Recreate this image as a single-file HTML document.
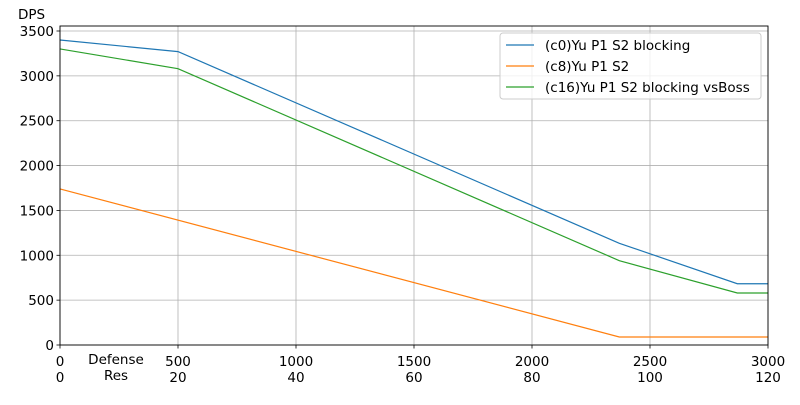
<!DOCTYPE html>
<html><head><meta charset="utf-8"><style>
body{margin:0;background:#fff;}
svg{font-family:"DejaVu Sans","Liberation Sans",sans-serif;}
</style></head><body>
<svg id="chart" width="800" height="400" viewBox="0 0 800 400">
<rect width="800" height="400" fill="#fff"/>
<g id="grid"></g><g id="lines"></g><g id="axes"></g>
</svg>
<script>
const xTicks=[0,500,1000,1500,2000,2500,3000];
const xTicks2=["0","20","40","60","80","100","120"];
const yTicks=[0,500,1000,1500,2000,2500,3000,3500];
const seriesNames=["(c0)Yu P1 S2 blocking","(c8)Yu P1 S2","(c16)Yu P1 S2 blocking vsBoss"];
const colors=["#1f77b4","#ff7f0e","#2ca02c"];
const blueX=[0,500,2370,2870,3000];
const blueY=[3400,3270,1134,683,683];
const orangeX=[0,2370,3000];
const orangeY=[1740,89,89];
const greenX=[0,500,2370,2870,3000];
const greenY=[3300,3080,940,580,580];
const X0=60,X1=768,Y0=345,YT=26;
const sx=v=>X0+(v/3000)*(X1-X0);
const sy=v=>Y0-v*(314/3500);
const NS="http://www.w3.org/2000/svg";
function mk(t,a,p){const e=document.createElementNS(NS,t);for(const k in a)e.setAttribute(k,a[k]);p.appendChild(e);return e;}
const g=document.getElementById('grid'),L=document.getElementById('lines'),A=document.getElementById('axes');
xTicks.forEach((v,i)=>{
 const gl=mk('line',{x1:sx(v),x2:sx(v),y1:YT,y2:Y0,stroke:'#b0b0b0','stroke-width':0.8},g);
 
 mk('line',{x1:sx(v),x2:sx(v),y1:Y0,y2:Y0+3.5,stroke:'#000','stroke-width':0.8},A);
 const t=mk('text',{x:sx(v),y:366,'text-anchor':'middle','font-size':13.5},A);t.textContent=v;
 
 const t2=mk('text',{x:sx(v),y:382,'text-anchor':'middle','font-size':13.5},A);t2.textContent=xTicks2[i];
 
});
yTicks.forEach(v=>{
 const gl=mk('line',{x1:X0,x2:X1,y1:sy(v),y2:sy(v),stroke:'#b0b0b0','stroke-width':0.8},g);
 
 mk('line',{x1:X0-3.5,x2:X0,y1:sy(v),y2:sy(v),stroke:'#000','stroke-width':0.8},A);
 const t=mk('text',{x:X0-6,y:sy(v)+5,'text-anchor':'end','font-size':13.5},A);t.textContent=v;
 
});
[[blueX,blueY],[orangeX,orangeY],[greenX,greenY]].forEach((s,i)=>{
 const p=mk('polyline',{points:s[0].map((x,j)=>sx(x)+','+sy(s[1][j])).join(' '),fill:'none',stroke:colors[i],'stroke-width':1.2},L);
 
});
const fr=mk('rect',{x:X0,y:YT,width:X1-X0,height:Y0-YT,fill:'none',stroke:'#000','stroke-width':0.9},A);

const yl=mk('text',{x:18,y:19,'font-size':13.5},A);yl.textContent='DPS';

const xl1=mk('text',{x:116,y:364,'text-anchor':'middle','font-size':13.5},A);xl1.textContent='Defense';

const xl2=mk('text',{x:116,y:380,'text-anchor':'middle','font-size':13.5},A);xl2.textContent='Res';

const lg=mk('g',{},A);

mk('rect',{x:500,y:33,width:261,height:66,rx:3,fill:'#fff','fill-opacity':0.8,stroke:'#ccc'},lg);
seriesNames.forEach((n,i)=>{
 const y=45+i*21;
 const ln=mk('line',{x1:506,x2:534,y1:y,y2:y,stroke:colors[i],'stroke-width':1.2},lg);
 
 const t=mk('text',{x:545,y:y+5,'font-size':13.5},lg);t.textContent=n;
 
});
</script>
</body></html>
